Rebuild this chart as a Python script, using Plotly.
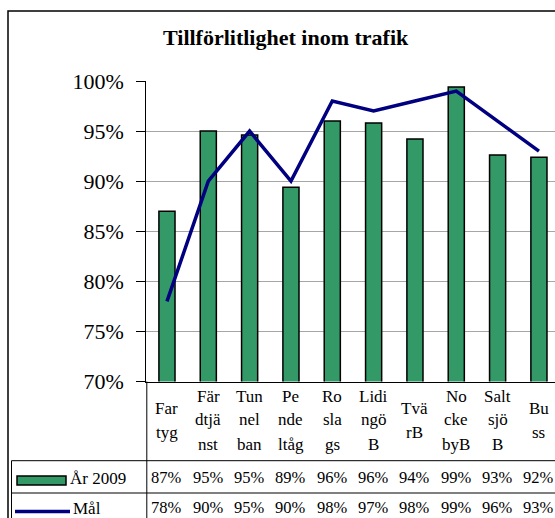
import plotly.graph_objects as go

# ---- data ----
categories = ["Fartyg", "Färdtjänst", "Tunnelban", "Pendeltåg", "Roslags",
              "LidingöB", "TväB", "NockebyB", "SaltsjöB", "Buss"]
label_lines = [["Far", "tyg"], ["Fär", "dtjä", "nst"], ["Tun", "nel", "ban"],
               ["Pe", "nde", "ltåg"], ["Ro", "sla", "gs"], ["Lidi", "ngö", "B"],
               ["Tvä", "rB"], ["No", "cke", "byB"], ["Salt", "sjö", "B"], ["Bu", "ss"]]
ar2009 = [87.0, 95.0, 94.6, 89.4, 96.0, 95.8, 94.2, 99.4, 92.6, 92.4]
mal = [78, 90, 95, 90, 98, 97, 98, 99, 96, 93]
y_ticks = [70, 75, 80, 85, 90, 95, 100]
title_text = "Tillförlitlighet inom trafik"
series_names = ["År 2009", "Mål"]

# ---- layout helpers (pixels -> paper) ----
W, H = 555, 518
def px(x):
    return x / W
def py(y):
    return (H - y) / H

x_left = 146.3
step = 41.33
FONT = "Liberation Serif, Times New Roman, serif"
GREEN = "#339966"
NAVY = "#000080"

fig = go.Figure()
fig.add_trace(go.Bar(x=list(range(len(categories))), y=ar2009, name=series_names[0],
                     marker=dict(color=GREEN, line=dict(color="black", width=1.5)),
                     width=0.39, hoverinfo="y"))
fig.add_trace(go.Scatter(x=list(range(len(categories))), y=mal, name=series_names[1],
                         mode="lines", line=dict(color=NAVY, width=3.5)))

fig.update_layout(
    width=W, height=H, margin=dict(l=0, r=0, t=0, b=0, pad=0), autosize=False,
    paper_bgcolor="white", plot_bgcolor="white", showlegend=False,
    font=dict(family=FONT, color="black"),
    xaxis=dict(domain=[px(x_left), 1], range=[-0.5, -0.5 + (W - x_left) / step],
               showticklabels=False, ticks="", showgrid=False, zeroline=False,
               showline=True, linecolor="black", linewidth=1, fixedrange=True,
               automargin=False),
    yaxis=dict(domain=[py(381.5), py(81)], range=[70, 100], tickvals=y_ticks,
               ticktext=[f"{v}%" for v in y_ticks], ticks="outside", ticklen=9,
               tickcolor="black", tickwidth=1, showline=True, linecolor="black",
               linewidth=1, showgrid=True, gridcolor="#a6a6a6", gridwidth=1,
               zeroline=False, tickfont=dict(size=22, family=FONT),
               ticklabelstandoff=8, fixedrange=True, automargin=False),
)

shapes = []
# outer chart border
shapes.append(dict(type="rect", xref="paper", yref="paper", x0=px(8), x1=px(W + 20),
                   y0=py(H + 20), y1=py(11), line=dict(color="black", width=1.5)))
# data table lines
shapes.append(dict(type="line", xref="paper", yref="paper", x0=px(x_left + 0.5), x1=px(x_left + 0.5),
                   y0=py(381.5), y1=py(H + 5), line=dict(color="black", width=1)))
for yy in [460.7, 493]:
    shapes.append(dict(type="line", xref="paper", yref="paper", x0=px(11.5), x1=1.02,
                       y0=py(yy), y1=py(yy), line=dict(color="black", width=1)))
shapes.append(dict(type="line", xref="paper", yref="paper", x0=px(11.5), x1=px(11.5),
                   y0=py(460.7), y1=py(H + 5), line=dict(color="black", width=1)))
# legend keys
shapes.append(dict(type="rect", xref="paper", yref="paper", x0=px(17), x1=px(66),
                   y0=py(485), y1=py(476), fillcolor=GREEN, line=dict(color="black", width=1.5)))
shapes.append(dict(type="line", xref="paper", yref="paper", x0=px(15), x1=px(70),
                   y0=py(511.5), y1=py(511.5), line=dict(color=NAVY, width=3.5)))

ann = []
ann.append(dict(text=f"<b>{title_text}</b>", xref="paper", yref="paper", x=px(285.5), y=py(38),
                xanchor="center", yanchor="middle", showarrow=False, font=dict(size=22, family=FONT)))
# category labels
for i, lines in enumerate(label_lines):
    n = len(lines)
    for j, t in enumerate(lines):
        yc = 421 + (j - (n - 1) / 2) * 24 - 1
        ann.append(dict(text=t, xref="x", yref="paper", x=i, y=py(yc), xanchor="center",
                        yanchor="middle", showarrow=False, font=dict(size=17, family=FONT)))
# table values
for i in range(len(categories)):
    ann.append(dict(text=f"{round(ar2009[i])}%", xref="x", yref="paper", x=i, y=py(477.5),
                    xanchor="center", yanchor="middle", showarrow=False, font=dict(size=16.5, family=FONT)))
    ann.append(dict(text=f"{round(mal[i])}%", xref="x", yref="paper", x=i, y=py(507.5),
                    xanchor="center", yanchor="middle", showarrow=False, font=dict(size=16.5, family=FONT)))
ann.append(dict(text=series_names[0], xref="paper", yref="paper", x=px(68), y=py(478),
                xanchor="left", yanchor="middle", showarrow=False, font=dict(size=17, family=FONT)))
ann.append(dict(text=series_names[1], xref="paper", yref="paper", x=px(71), y=py(508),
                xanchor="left", yanchor="middle", showarrow=False, font=dict(size=17, family=FONT)))

fig.update_layout(shapes=shapes, annotations=ann)
fig.write_html("out.html", config={"displayModeBar": False},
               post_script="document.body.style.margin='0';document.body.style.overflow='hidden';")
